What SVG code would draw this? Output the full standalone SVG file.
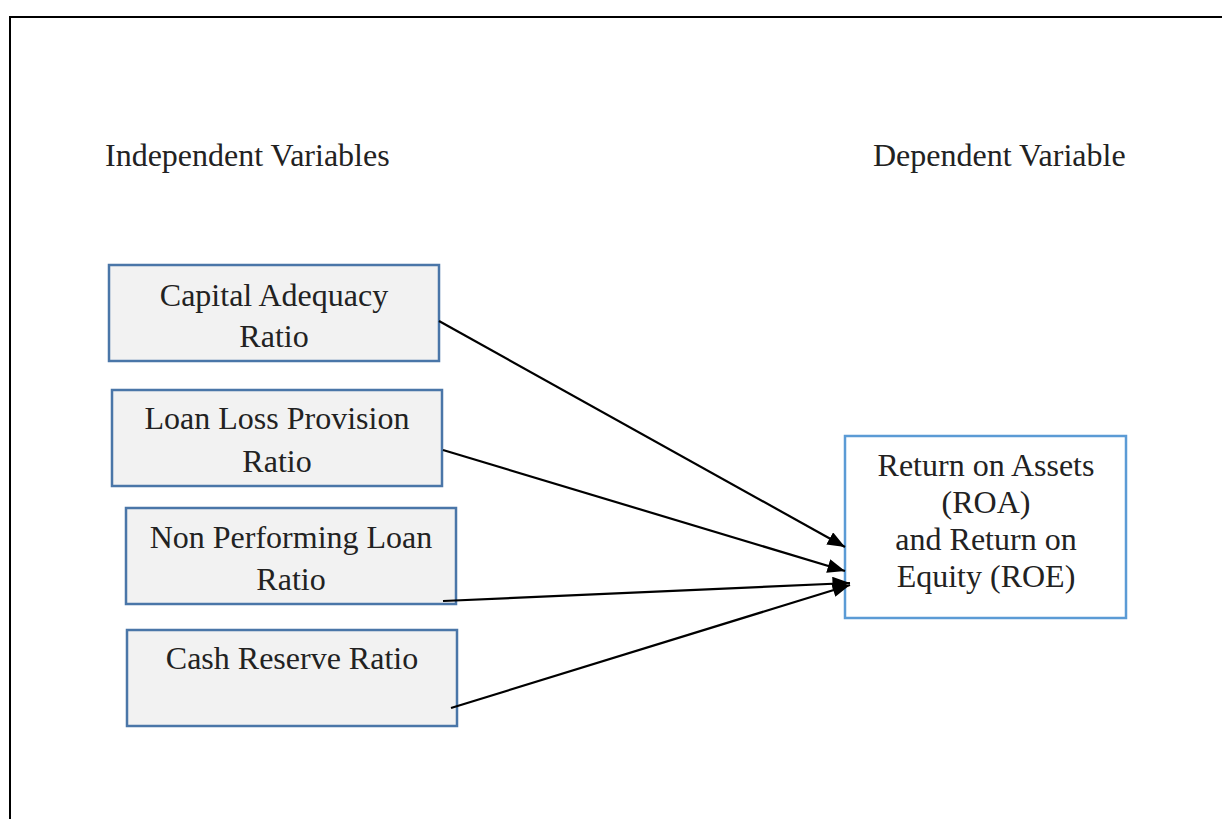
<svg xmlns="http://www.w3.org/2000/svg" width="1222" height="819" viewBox="0 0 1222 819">
<defs>
<style>
text{font-family:"Liberation Serif","Times New Roman",serif;font-size:32px;fill:#222;}
.c{text-anchor:middle;}
.src{fill:#f2f2f2;stroke:#4a76a8;stroke-width:2.5;}
.dst{fill:#fff;stroke:#5b9bd5;stroke-width:2.5;}
.conn line{stroke:#000;stroke-width:2.2;marker-end:url(#ah);}
</style>
<marker id="ah" viewBox="0 0 10 8" refX="10" refY="4" markerWidth="18" markerHeight="14" markerUnits="userSpaceOnUse" orient="auto">
<path d="M0,0 L10,4 L0,8 z" fill="#000"/>
</marker>
</defs>
<rect width="1222" height="819" fill="#fff"/>
<path d="M10,819 V17 H1222" fill="none" stroke="#000" stroke-width="2"/>
<text x="105" y="166">Independent Variables</text>
<text x="873" y="166">Dependent Variable</text>
<g id="n1"><rect class="src" x="109" y="265" width="330" height="96"/><text class="c" x="274" y="306">Capital Adequacy</text><text class="c" x="274" y="347">Ratio</text></g>
<g id="n2"><rect class="src" x="112" y="390" width="330" height="96"/><text class="c" x="277" y="429">Loan Loss Provision</text><text class="c" x="277" y="472">Ratio</text></g>
<g id="n3"><rect class="src" x="126" y="508" width="330" height="96"/><text class="c" x="291" y="548">Non Performing Loan</text><text class="c" x="291" y="590">Ratio</text></g>
<g id="n4"><rect class="src" x="127" y="630" width="330" height="96"/><text class="c" x="292" y="669">Cash Reserve Ratio</text></g>
<g id="n5"><rect class="dst" x="845" y="436" width="281" height="182"/><text class="c" x="986" y="476">Return on Assets</text><text class="c" x="986" y="513">(ROA)</text><text class="c" x="986" y="550">and Return on</text><text class="c" x="986" y="587">Equity (ROE)</text></g>
<g class="conn">
<line x1="439" y1="321" x2="845" y2="547"/>
<line x1="443" y1="450" x2="845" y2="571"/>
<line x1="443" y1="601" x2="850" y2="583"/>
<line x1="451" y1="708" x2="850" y2="585"/>
</g>
</svg>
